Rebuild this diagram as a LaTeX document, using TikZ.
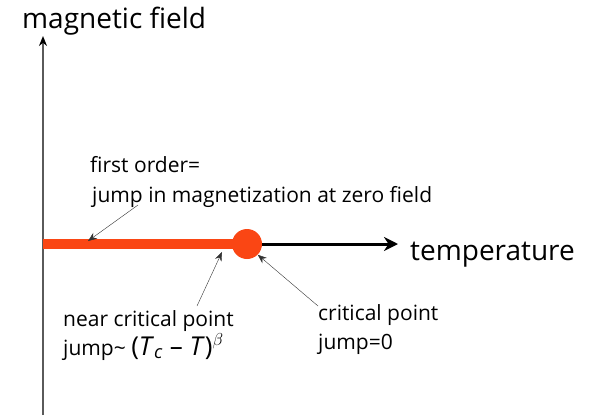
\documentclass[tikz,border=0pt]{standalone}
\usepackage{fontspec}
\setmainfont{Open Sans}
\usetikzlibrary{arrows.meta,positioning}
\definecolor{lineRed}{RGB}{250,70,20}
\definecolor{axisGray}{RGB}{90,90,90}

\begin{document}
\begin{tikzpicture}[x=1pt,y=-1pt,
  lbl/.style={font=\fontsize{21}{24}\selectfont,align=left,inner sep=0pt,anchor=base west},
  axlbl/.style={font=\fontsize{28}{32}\selectfont,inner sep=0pt,anchor=base west},
  ptr/.style={-{Stealth[length=9pt,width=7pt]},thin,black!80}]
  \useasboundingbox (0,0) rectangle (594,415);
  % axes
  \coordinate (o) at (43,244);
  \coordinate (ytop) at (43,36);
  \coordinate (ybot) at (43,415);
  \coordinate (xend) at (398,244);
  \draw[axisGray,line width=2pt,-{Stealth[black,length=10pt,width=8pt]}] (ybot) -- (ytop);
  \node[axlbl] (mf) at (22,28) {magnetic field};
  \node[axlbl] (temp) at (410,260) {temperature};
  % first order line and critical point
  \node[circle,fill=lineRed,minimum size=30pt,inner sep=0pt] (cp) at (247,244) {};
  \draw[black,line width=3pt,-{Stealth[length=14pt,width=14pt]}] (cp.east) -- (xend);
  \draw[lineRed,line width=10pt] (o) -- (cp.center);
  % labels
  \node[lbl] (fo) at (90,172) {first order=};
  \node[lbl] (jm) at (92,202) {jump in magnetization at zero field};
  \node[lbl] (nc) at (63,326) {near critical point};
  \node[lbl] (nj) at (63,355) {jump\textasciitilde\ {\fontsize{26}{28}\selectfont(\textit{T}\textsubscript{\textit{c}} – \textit{T})\textsuperscript{$\beta$}}};
  \node[lbl] (cl) at (318,320) {critical point};
  \node[lbl] (cj) at (318,349) {jump=0};
  % pointers
  \coordinate (foTip) at (88,241);
  \coordinate (ncTip) at (222,252);
  \draw[ptr] (138,205) -- (foTip);
  \draw[ptr] (197,306) -- (ncTip);
  \draw[ptr] (318,306) -- (cp.south east);
\end{tikzpicture}
\end{document}
